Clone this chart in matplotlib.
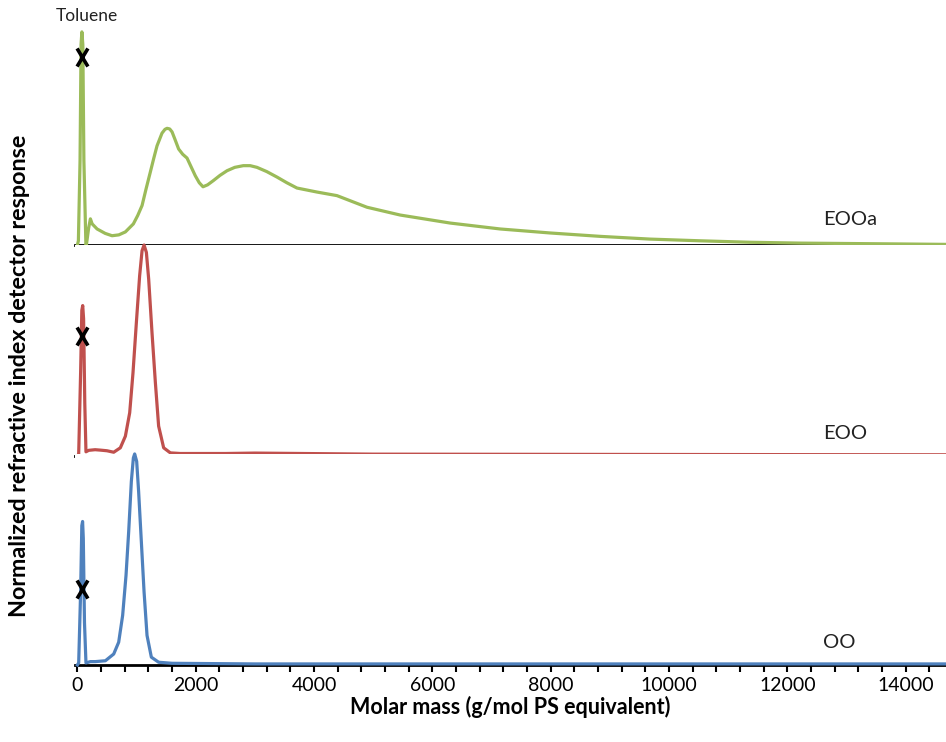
import matplotlib.pyplot as plt
from matplotlib.path import Path
from matplotlib.ticker import MultipleLocator

eooa_x = [0, 17, 45, 62, 76, 92, 110, 144, 152, 190, 220, 250, 333, 470, 586, 700, 811,
          946, 1020, 1093, 1160, 1233, 1290, 1346, 1430, 1480, 1515, 1560, 1600, 1650,
          1711, 1780, 1853, 1993, 2060, 2123, 2200, 2297, 2410, 2529, 2660, 2804, 2920,
          3035, 3200, 3373, 3540, 3711, 4049, 4387, 4894, 5456, 6301, 7145, 7990, 8834,
          9679, 10524, 11368, 12213, 13057, 13902, 14680]
eooa_y = [0, 0.02, 0.4, 0.95, 1.01, 0.95, 0.4, 0.0, 0.0, 0.08, 0.124, 0.10, 0.076, 0.055,
          0.044, 0.048, 0.062, 0.10, 0.14, 0.187, 0.265, 0.346, 0.41, 0.47, 0.53, 0.548,
          0.553, 0.55, 0.536, 0.5, 0.455, 0.43, 0.412, 0.328, 0.295, 0.276, 0.285, 0.305,
          0.33, 0.352, 0.368, 0.376, 0.376, 0.368, 0.348, 0.322, 0.295, 0.270, 0.251,
          0.234, 0.179, 0.142, 0.104, 0.076, 0.057, 0.041, 0.028, 0.020, 0.013, 0.009,
          0.007, 0.005, 0.003]

eoo_x = [0, 22, 55, 75, 90, 105, 125, 145, 191, 300, 389, 500, 614, 726, 811, 884, 940,
         997, 1052, 1093, 1127, 1166, 1205, 1261, 1318, 1373, 1458, 1571, 1740, 2500,
         3000, 5000, 8000, 11000, 14680]
eoo_y = [0, 0.01, 0.4, 0.69, 0.713, 0.65, 0.25, 0.02, 0.027, 0.03, 0.028, 0.025, 0.018,
         0.039, 0.094, 0.205, 0.395, 0.633, 0.854, 0.973, 1.0, 0.965, 0.838, 0.585, 0.348,
         0.142, 0.039, 0.015, 0.012, 0.012, 0.014, 0.009, 0.008, 0.007, 0.006]

oo_x = [0, 22, 55, 75, 88, 100, 120, 145, 220, 304, 473, 614, 698, 765, 822, 867, 912,
        946, 968, 1002, 1035, 1081, 1127, 1177, 1250, 1373, 1600, 3000, 6000, 10000, 14680]
oo_y = [0, 0.01, 0.35, 0.66, 0.68, 0.6, 0.2, 0.01, 0.016, 0.016, 0.02, 0.052, 0.108,
        0.235, 0.425, 0.632, 0.87, 0.981, 1.0, 0.965, 0.822, 0.584, 0.346, 0.14, 0.037,
        0.013, 0.008, 0.005, 0.005, 0.005, 0.005]

# marcas del tolueno (X)
tol_x = 79
tol_y = [0.89, 0.568, 0.362]

nombres = ['EOOa', 'EOO', 'OO']
colores = ['#9BBB59', '#C0504D', '#4F81BD']
series = [(eooa_x, eooa_y), (eoo_x, eoo_y), (oo_x, oo_y)]
label_y = [0.123, 0.107, 0.105]

# marcador en forma de X estrecha
marca_x = Path([(-0.3, -0.5), (0.3, 0.5), (-0.3, 0.5), (0.3, -0.5)],
               [Path.MOVETO, Path.LINETO, Path.MOVETO, Path.LINETO])

plt.rcParams['font.family'] = ['Lato', 'DejaVu Sans']

fig = plt.figure(figsize=(9.46, 7.42), dpi=100)
left, right = 0.0793, 1.0
bottoms = [0.6698, 0.3854, 0.1038]
h = 0.2844
xmin, xmax = -40, 14680

for i in range(3):
    ax = fig.add_axes([left, bottoms[i], right - left, h])
    x, y = series[i]
    ax.plot(x, y, color=colores[i], lw=2.3, solid_joinstyle='round', clip_on=False, zorder=3)
    ax.plot([tol_x], [tol_y[i]], marker=marca_x, color='black', ms=13, mew=2.6,
            ls='none', clip_on=False, zorder=4)
    ax.text(12596, label_y[i], nombres[i], fontsize=14.5, ha='left', va='center', color='#222222')
    ax.set_xlim(xmin, xmax)
    ax.set_ylim(0, 1)
    for s in ['left', 'right', 'top']:
        ax.spines[s].set_visible(False)
    ax.spines['bottom'].set_linewidth(2.0)
    ax.spines['bottom'].set_zorder(2)
    ax.set_yticks([])
    if i < 2:
        ax.set_xticks([])
    else:
        ax.xaxis.set_major_locator(MultipleLocator(2000))
        ax.xaxis.set_minor_locator(MultipleLocator(400))
        ax.tick_params(axis='x', which='both', direction='out', length=5, width=1.5)
        ax.tick_params(axis='x', which='major', labelsize=14, pad=4)
        ax.set_xlabel('Molar mass (g/mol PS equivalent)', fontsize=15.5, fontweight='bold',
                      labelpad=1)
    if i == 0:
        ax.text(152, 1.085, 'Toluene', fontsize=12.5, ha='center', va='center',
                color='#222222', clip_on=False)

fig.text(0.021, 0.493, 'Normalized refractive index detector response', rotation=90,
         fontsize=16.8, fontweight='bold', ha='center', va='center')

fig.savefig('out.png', dpi=100)
